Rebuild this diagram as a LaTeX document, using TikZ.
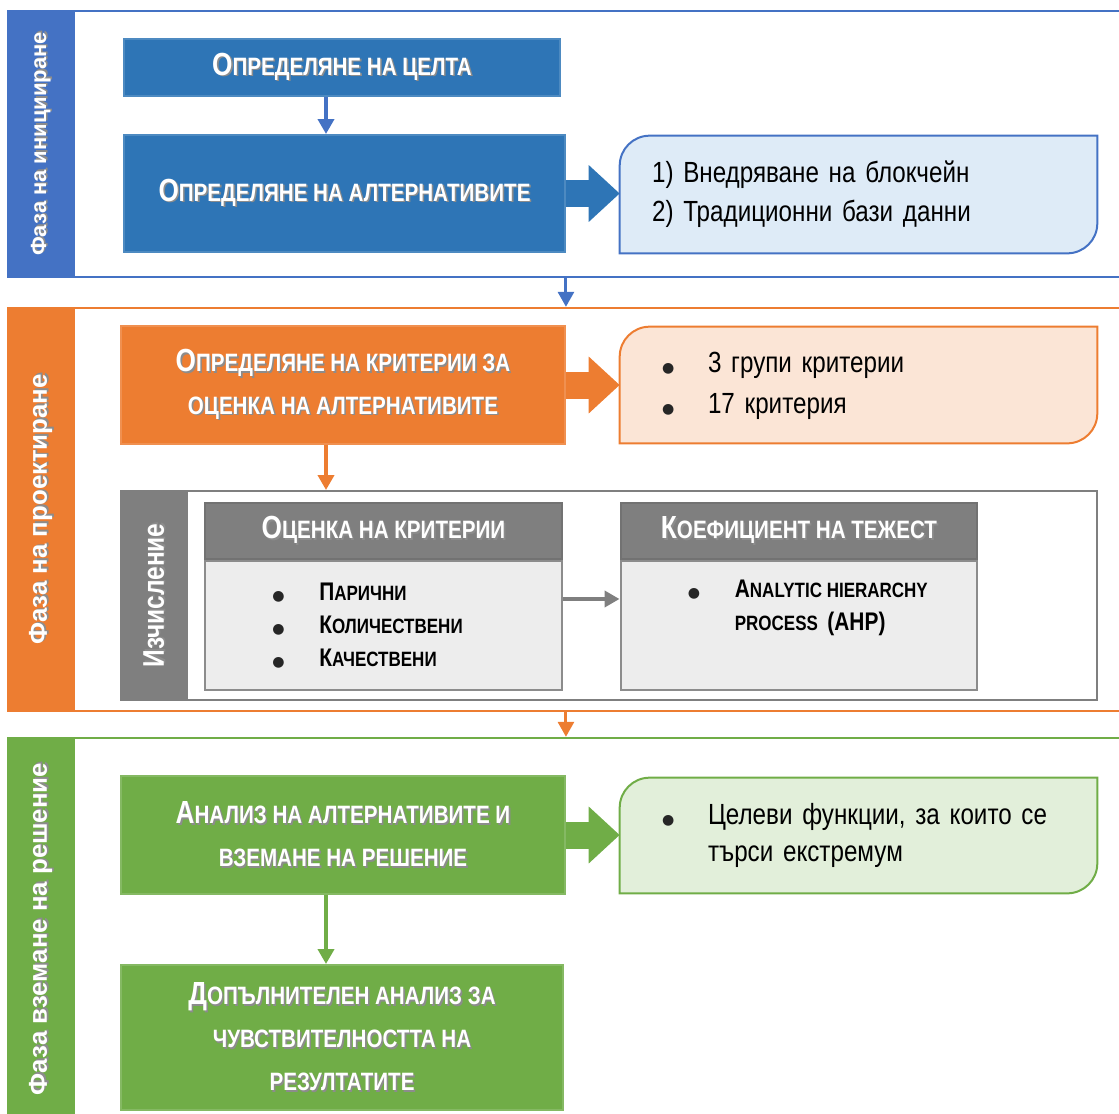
\documentclass[tikz,border=0pt]{standalone}
\usepackage{fontspec}
\setmainfont{Liberation Sans}
\newfontfamily\narrow[FakeStretch=0.82, WordSpace=1.0]{Liberation Sans}
\newfontfamily\notefont[FakeStretch=0.83, WordSpace=0.62]{Liberation Sans}
\newfontfamily\symfont{DejaVu Sans}
\usetikzlibrary{arrows.meta,positioning,backgrounds}

\definecolor{iniblue}{HTML}{4472C4}
\definecolor{boxblue}{HTML}{2E75B6}
\definecolor{noteblue}{HTML}{DEEBF7}
\definecolor{desorange}{HTML}{ED7D31}
\definecolor{noteorange}{HTML}{FBE5D6}
\definecolor{decgreen}{HTML}{70AD47}
\definecolor{notegreen}{HTML}{E2EFDA}
\definecolor{calcgray}{HTML}{7F7F7F}
\definecolor{bodygray}{HTML}{EDEDED}

% small caps made by hand
\newcommand{\sctitle}[2]{{\fontsize{18.2}{24.4}\selectfont #1}{\fontsize{14.3}{24.4}\selectfont #2}}
\newcommand{\scitem}[2]{{\fontsize{14.5}{18.7}\selectfont #1}{\fontsize{11.8}{18.7}\selectfont #2}}
\newcommand{\shd}[1]{\rlap{\kern0.9pt\raisebox{-0.9pt}{\color{black!45}#1}}#1}
\newcommand{\dotb}{{\symfont\fontsize{8}{8}\selectfont\color{black!85}●}}
% note box with two round corners
\newcommand{\notebg}[3]{%
  \begin{scope}[on background layer]
    \draw[draw=#3, fill=#2, line width=0.04cm] (#1.south west)
      -- ([yshift=-0.6cm]#1.north west) arc[start angle=180, end angle=90, radius=0.6cm]
      -- (#1.north east)
      -- ([yshift=0.6cm]#1.south east) arc[start angle=0, end angle=-90, radius=0.6cm]
      -- cycle;
  \end{scope}}

\begin{document}
\begin{tikzpicture}[x=0.02cm, y=-0.02cm,
  phase/.style={draw=#1, line width=0.05cm, minimum width=22.44cm, inner sep=0},
  band/.style={fill=#1, text=white, rotate=90, minimum height=1.34cm, inner sep=0},
  stepbox/.style={fill=#1, draw=#1!85!white, line width=0.04cm, text=white, align=center, inner sep=0,
    font=\narrow\bfseries\fontsize{14.3}{24.4}\selectfont},
  cardhead/.style={fill=calcgray, draw=calcgray!90!black, line width=0.04cm, text=white, inner sep=0,
    minimum width=7.14cm, minimum height=1.12cm, font=\narrow\bfseries\fontsize{14.3}{24.4}\selectfont},
  cardbody/.style={fill=bodygray, draw=calcgray!90!white, line width=0.04cm, inner sep=0,
    minimum width=7.14cm, minimum height=2.58cm},
  items/.style={anchor=north west, inner sep=0, align=left, font=\narrow\bfseries\fontsize{11.8}{18.7}\selectfont},
  note/.style={align=left, inner xsep=0.64cm, text width=8.26cm, font=\notefont\fontsize{16.6}{22}\selectfont},
  link/.style={draw=#1, line width=0.08cm, -{Triangle[length=0.3cm, width=0.32cm]}},
  bigarrow/.style={draw=#1, line width=0.54cm, -{Triangle[length=0.62cm, width=1.1cm]}}]

  \useasboundingbox (0,0) rectangle (1119,1113);
  \coordinate (spine) at (326,0);

  % phases
  \node[phase=iniblue, minimum height=5.32cm] (ini) at (569,144) {};
  \node[band=iniblue, minimum width=5.32cm, font=\bfseries\fontsize{12.5}{15}\selectfont] (iniband) at (41.5,144) {\shd{Фаза на иницииране}};
  \node[phase=desorange, minimum height=8.06cm] (des) at (569,509.5) {};
  \node[band=desorange, minimum width=8.06cm, font=\bfseries\fontsize{14.7}{17}\selectfont] (desband) at (41.5,509.5) {\shd{Фаза на проектиране}};
  \node[phase=decgreen, minimum height=7.64cm] (dec) at (569,929) {};
  \node[band=decgreen, minimum width=7.64cm, font=\bfseries\fontsize{14.7}{17}\selectfont] (decband) at (41.5,929) {\shd{Фаза вземане на решение}};

  % initiation
  \node[stepbox=boxblue, minimum width=8.72cm, minimum height=1.14cm] (goal) at (342,67.5) {\shd{\sctitle{О}{ПРЕДЕЛЯНЕ НА ЦЕЛТА}}};
  \node[stepbox=boxblue, minimum width=8.82cm, minimum height=2.34cm] (alt) at (344.5,193.5) {\shd{\sctitle{О}{ПРЕДЕЛЯНЕ НА АЛТЕРНАТИВИТЕ}}};
  \node[note, minimum height=2.34cm] (altnote) at (858.5,194.5) {1) Внедряване на блокчейн\\2) Традиционни бази данни};
  \notebg{altnote}{noteblue}{iniblue}

  % design
  \node[stepbox=desorange, minimum width=8.88cm, minimum height=2.36cm] (crit) at (343,385)
    {\shd{\sctitle{О}{ПРЕДЕЛЯНЕ НА КРИТЕРИИ ЗА}}\\\shd{\sctitle{}{ОЦЕНКА НА АЛТЕРНАТИВИТЕ}}};
  \node[note, minimum height=2.32cm, font=\notefont\fontsize{16.6}{23.2}\selectfont] (critnote) at (858.5,385)
    {\begin{tabular}{@{\hspace{0.2cm}}l@{}l@{}}
      \makebox[0.92cm][l]{\dotb} & 3 групи критерии\\
      \makebox[0.92cm][l]{\dotb} & 17 критерия
    \end{tabular}};
  \notebg{critnote}{noteorange}{desorange}

  \node[draw=calcgray, line width=0.04cm, minimum width=19.52cm, minimum height=4.18cm, inner sep=0] (calc) at (609,595.5) {};
  \node[band=calcgray, minimum width=4.18cm, font=\narrow\bfseries\fontsize{17}{20}\selectfont] (calcband) at (154.5,595.5) {\shd{Изчисление}};
  \node[cardhead] (crithead) at (383.5,531) {\shd{\sctitle{О}{ЦЕНКА НА КРИТЕРИИ}}};
  \node[cardbody, below=0cm of crithead] (critbody) {};
  \node[cardhead] (weighthead) at (799,531) {\shd{\sctitle{К}{ОЕФИЦИЕНТ НА ТЕЖЕСТ}}};
  \node[cardbody, below=0cm of weighthead] (weightbody) {};
  \node[items] (critlist) at ([xshift=1.36cm, yshift=-0.34cm]critbody.north west)
    {\begin{tabular}{@{}l@{}l@{}}
      \makebox[0.94cm][l]{\dotb} & \scitem{П}{АРИЧНИ}\\
      \makebox[0.94cm][l]{\dotb} & \scitem{К}{ОЛИЧЕСТВЕНИ}\\
      \makebox[0.94cm][l]{\dotb} & \scitem{К}{АЧЕСТВЕНИ}
    \end{tabular}};
  \node[items] (ahp) at ([xshift=1.36cm, yshift=-0.28cm]weightbody.north west)
    {\begin{tabular}{@{}l@{}l@{}}
      \makebox[0.94cm][l]{\dotb} & \scitem{A}{NALYTIC HIERARCHY}\\
      & \scitem{}{PROCESS}\ \ {\fontsize{14.5}{18.7}\selectfont (AHP)}
    \end{tabular}};

  % decision
  \node[stepbox=decgreen, minimum width=8.88cm, minimum height=2.36cm] (choice) at (343,835)
    {\shd{\sctitle{А}{НАЛИЗ НА АЛТЕРНАТИВИТЕ И}}\\\shd{\sctitle{}{ВЗЕМАНЕ НА РЕШЕНИЕ}}};
  \node[note, minimum height=2.3cm, font=\notefont\fontsize{16.6}{21.5}\selectfont] (choicenote) at (858.5,835.5)
    {\begin{tabular}{@{\hspace{0.2cm}}l@{}l@{}}
      \makebox[0.92cm][l]{\dotb} & Целеви функции, за които се\\
      & търси екстремум
    \end{tabular}};
  \notebg{choicenote}{notegreen}{decgreen}
  \node[stepbox=decgreen, minimum width=8.84cm, minimum height=2.9cm] (sens) at (342,1037.5)
    {\shd{\sctitle{Д}{ОПЪЛНИТЕЛЕН АНАЛИЗ ЗА}}\\\shd{\sctitle{}{ЧУВСТВИТЕЛНОСТТА НА}}\\\shd{\sctitle{}{РЕЗУЛТАТИТЕ}}};

  % connectors
  \draw[link=iniblue] (goal.south -| spine) -- (alt.north -| spine);
  \draw[bigarrow=boxblue] (alt.east) -- (alt.east -| altnote.west);
  \draw[link=iniblue, line width=0.06cm] (ini.south -| alt.east) -- (des.north -| alt.east);
  \draw[bigarrow=desorange] (crit.east) -- (crit.east -| critnote.west);
  \draw[link=desorange] (crit.south -| spine) -- (calc.north -| spine);
  \draw[link=calcgray] ([yshift=0.53cm]critbody.east) -- ([yshift=0.53cm]weightbody.west);
  \draw[link=desorange, line width=0.06cm] (des.south -| crit.east) -- (dec.north -| crit.east);
  \draw[bigarrow=decgreen] (choice.east) -- (choice.east -| choicenote.west);
  \draw[link=decgreen] (choice.south -| spine) -- (sens.north -| spine);
\end{tikzpicture}
\end{document}
